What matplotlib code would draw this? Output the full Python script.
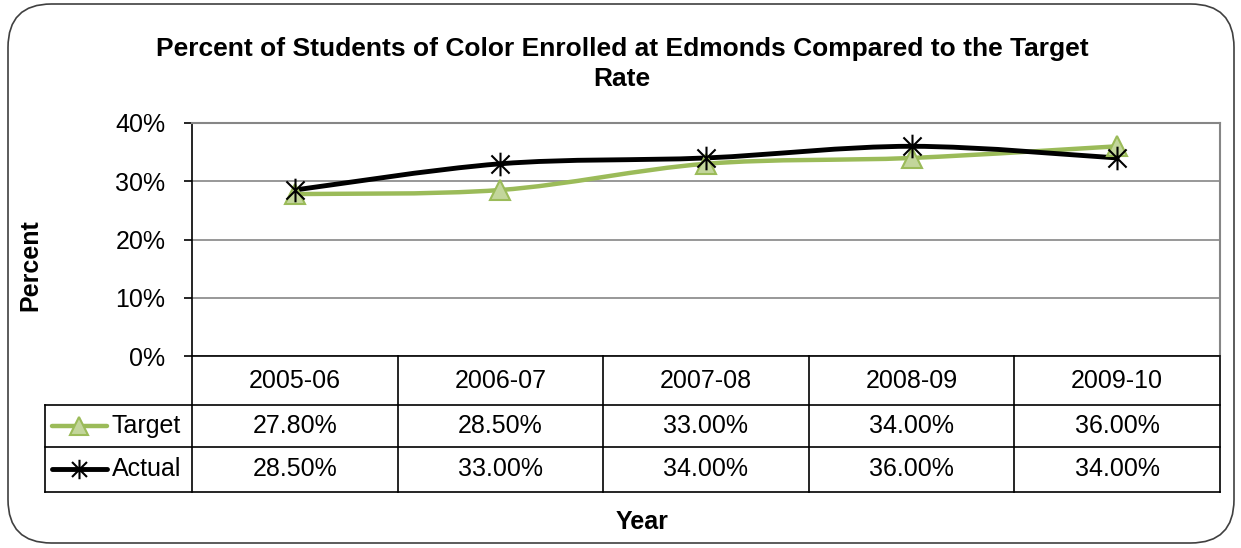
import numpy as np
import matplotlib
matplotlib.use("Agg")
import matplotlib.pyplot as plt
from matplotlib.path import Path
from matplotlib.patches import PathPatch, FancyBboxPatch
from matplotlib.ticker import PercentFormatter, MultipleLocator

# data
years = ["2005-06", "2006-07", "2007-08", "2008-09", "2009-10"]
target = [27.8, 28.5, 33.0, 34.0, 36.0]
actual = [28.5, 33.0, 34.0, 36.0, 34.0]

GREEN = "#9bbb59"
GREEN_FILL = "#c3d69b"
GRID = "#868686"

plt.rcParams["font.family"] = ["Liberation Sans", "DejaVu Sans"]

# asterisk marker like Excel's (X plus a vertical bar)
star = Path([(-1, -1), (1, 1), (-1, 1), (1, -1), (0, -1.3), (0, 1.3)],
            [Path.MOVETO, Path.LINETO, Path.MOVETO, Path.LINETO, Path.MOVETO, Path.LINETO])


def smooth_path(xs, ys):
    # catmull-rom style bezier, the way Excel draws "smoothed line"
    pts = np.column_stack([xs, ys]).astype(float)
    verts = [pts[0]]
    codes = [Path.MOVETO]
    n = len(pts)
    for i in range(n - 1):
        p0 = pts[i - 1] if i > 0 else pts[i]
        p1, p2 = pts[i], pts[i + 1]
        p3 = pts[i + 2] if i + 2 < n else pts[i + 1]
        verts += [p1 + (p2 - p0) / 6, p2 - (p3 - p1) / 6, p2]
        codes += [Path.CURVE4] * 3
    return Path(verts, codes)


fig = plt.figure(figsize=(12.41, 5.48), dpi=100)
ax = fig.add_axes([192 / 1241, 1 - 356 / 548, 1028 / 1241, 233 / 548])

x = np.arange(len(years))
for vals, col, lw in [(target, GREEN, 3.2), (actual, "black", 3.5)]:
    ax.add_patch(PathPatch(smooth_path(x, vals), fill=False, edgecolor=col, lw=lw,
                           capstyle="round", zorder=3))
ax.plot(x, target, ls="none", marker="^", ms=15, mfc=GREEN_FILL, mec=GREEN, mew=1.5, zorder=4)
ax.plot(x, actual, ls="none", marker=star, ms=17, mfc="none", mec="black", mew=1.5, zorder=5)

ax.set_xlim(-0.5, len(years) - 0.5)
ax.set_ylim(0, 40)
ax.yaxis.set_major_locator(MultipleLocator(10))
ax.yaxis.set_major_formatter(PercentFormatter(decimals=0))
ax.grid(axis="y", color=GRID, lw=1.2)
ax.set_axisbelow(True)
ax.set_xticks([])
ax.tick_params(axis="y", labelsize=18, length=6, width=1.2, pad=13)
for s in ["top", "right"]:
    ax.spines[s].set_color(GRID)
    ax.spines[s].set_linewidth(1.5)
for s in ["left", "bottom"]:
    ax.spines[s].set_color("black")
    ax.spines[s].set_linewidth(1.2)

# data table below the axis
tr = ax.get_xaxis_transform()
row_lines = [0, -0.2103, -0.3906, -0.5837]
row_mid = [-0.107, -0.300, -0.485]
leg_left = -0.143
for xb in np.arange(len(years) + 1) - 0.5:
    ax.plot([xb, xb], [0, row_lines[-1]], color="black", lw=1.2, transform=tr, clip_on=False)
for yb in row_lines[1:]:
    ax.plot([leg_left, 1], [yb, yb], color="black", lw=1.2, transform=ax.transAxes, clip_on=False)
ax.plot([leg_left, leg_left], [row_lines[1], row_lines[-1]], color="black", lw=1.2,
        transform=ax.transAxes, clip_on=False)

for i, yr in enumerate(years):
    ax.text(i, row_mid[0], yr, transform=tr, ha="center", va="center", fontsize=18)
    ax.text(i, row_mid[1], f"{target[i]:.2f}%", transform=tr, ha="center", va="center", fontsize=18)
    ax.text(i, row_mid[2], f"{actual[i]:.2f}%", transform=tr, ha="center", va="center", fontsize=18)

# legend keys inside the table
ax.plot([-0.136, -0.083], [row_mid[1]] * 2, color=GREEN, lw=3.2, transform=ax.transAxes,
        clip_on=False, solid_capstyle="round")
ax.plot([-0.110], [row_mid[1]], marker="^", ms=13, mfc=GREEN_FILL, mec=GREEN, mew=1.5,
        transform=ax.transAxes, clip_on=False)
ax.plot([-0.136, -0.083], [row_mid[2]] * 2, color="black", lw=3.5, transform=ax.transAxes,
        clip_on=False, solid_capstyle="round")
ax.plot([-0.110], [row_mid[2]], marker=star, ms=14, mec="black", mew=1.5,
        transform=ax.transAxes, clip_on=False)
ax.text(-0.078, row_mid[1], "Target", transform=ax.transAxes, ha="left", va="center", fontsize=18)
ax.text(-0.078, row_mid[2], "Actual", transform=ax.transAxes, ha="left", va="center", fontsize=18)

# titles
fig.text(622 / 1241, 1 - 64 / 548,
         "Percent of Students of Color Enrolled at Edmonds Compared to the Target\nRate",
         ha="center", va="center", fontsize=19, fontweight="bold", linespacing=1.3)
fig.text(30 / 1241, 1 - 265 / 548, "Percent", rotation=90, ha="center", va="center",
         fontsize=18, fontweight="bold")
fig.text(642 / 1241, 1 - 522 / 548, "Year", ha="center", va="center", fontsize=18, fontweight="bold")

# rounded chart border
fig.patches.append(FancyBboxPatch((8 / 1241, 5 / 548), 1226 / 1241, 539 / 548,
                                  boxstyle="round,pad=0,rounding_size=0.035",
                                  transform=fig.transFigure, fill=False,
                                  edgecolor="#404040", lw=1.2, mutation_aspect=1241 / 548))

fig.savefig("out.png", dpi=100)
